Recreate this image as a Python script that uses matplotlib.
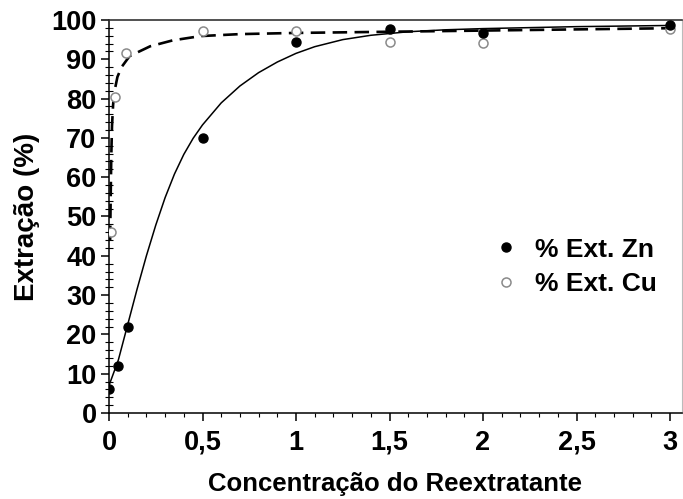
import matplotlib
matplotlib.use("Agg")
import matplotlib.pyplot as plt
from matplotlib.ticker import MultipleLocator

plt.rcParams['font.family'] = ['Liberation Sans', 'DejaVu Sans']
plt.rcParams['font.weight'] = 'bold'

# measured points
conc_zn = [0.0, 0.05, 0.1, 0.5, 1.0, 1.5, 2.0, 3.0]
ext_zn = [6.0, 12.0, 22.0, 70.0, 94.5, 97.8, 96.8, 98.8]

conc_cu = [0.01, 0.03, 0.09, 0.5, 1.0, 1.5, 2.0, 3.0]
ext_cu = [46.0, 80.5, 91.5, 97.2, 97.2, 94.5, 94.2, 97.8]

# fitted curves
fit_zn_x = [0.0, 0.05, 0.1, 0.15, 0.2, 0.25, 0.3, 0.35, 0.4, 0.45, 0.5,
            0.6, 0.7, 0.8, 0.9, 1.0, 1.1, 1.25, 1.4, 1.6, 1.8, 2.0, 2.5, 3.0]
fit_zn_y = [7.0, 13.5, 22.5, 31.5, 40.0, 47.8, 54.8, 60.8, 65.8, 69.9, 73.3,
            78.9, 83.2, 86.6, 89.3, 91.5, 93.2, 95.0, 96.1, 97.0, 97.5, 97.8,
            98.3, 98.6]

fit_cu_x = [0.006, 0.009, 0.012, 0.016, 0.022, 0.03, 0.045, 0.067, 0.11,
            0.22, 0.34, 0.49, 0.7, 1.0, 1.5, 2.0, 2.5, 3.0]
fit_cu_y = [44.0, 55.0, 65.0, 73.0, 78.5, 82.0, 85.5, 88.0, 90.8,
            93.3, 94.8, 95.9, 96.4, 96.7, 97.0, 97.3, 97.6, 97.9]

xticks = [0, 0.5, 1, 1.5, 2, 2.5, 3]
xticklabels = ['0', '0,5', '1', '1,5', '2', '2,5', '3']
yticks = [0, 10, 20, 30, 40, 50, 60, 70, 80, 90, 100]

fig = plt.figure(figsize=(6.83, 4.99), dpi=100)
ax = fig.add_axes([0.1596, 0.1723, 0.8389, 0.7877])

ax.plot(fit_zn_x, fit_zn_y, color='black', lw=1.1, zorder=2)
ax.plot(fit_cu_x, fit_cu_y, color='black', lw=1.9, dashes=(5.5, 2.8), zorder=2)

zn, = ax.plot(conc_zn, ext_zn, 'o', color='black', ms=6.5, ls='none', zorder=4,
              label='% Ext. Zn')
cu, = ax.plot(conc_cu, ext_cu, 'o', mfc='white', mec='#8a8a8a', mew=1.1, ms=6.5,
              ls='none', zorder=3, label='% Ext. Cu')

ax.set_xlim(0, 3.064)
ax.set_ylim(0, 100)
ax.set_xticks(xticks)
ax.set_xticklabels(xticklabels)
ax.set_yticks(yticks)
ax.xaxis.set_minor_locator(MultipleLocator(0.1))
ax.yaxis.set_minor_locator(MultipleLocator(2))

ax.tick_params(axis='both', which='major', direction='out', length=6, width=1.1,
               labelsize=19.5, pad=3)
ax.tick_params(axis='x', which='minor', direction='out', length=3, width=0.8)
ax.tick_params(axis='y', which='minor', direction='inout', length=6, width=0.8)
ax.tick_params(axis='x', which='major', pad=6)

for side in ['left', 'bottom']:
    ax.spines[side].set_linewidth(1.1)
ax.spines['top'].set_linewidth(1.2)
ax.spines['top'].set_color('#333333')
ax.spines['right'].set_linewidth(0.8)
ax.spines['right'].set_color('#bbbbbb')

ax.set_xlabel('Concentração do Reextratante', fontsize=18.5, fontweight='bold',
              labelpad=12)
ax.set_ylabel('Extração (%)', fontsize=20, fontweight='bold', labelpad=8)

ax.legend(handles=[zn, cu], loc='center left', bbox_to_anchor=(0.652, 0.372),
          frameon=False, borderpad=0, handlelength=0.8, handletextpad=0.7,
          labelspacing=0.4, prop={'size': 19, 'weight': 'bold'})

fig.savefig('out.png', dpi=100)
